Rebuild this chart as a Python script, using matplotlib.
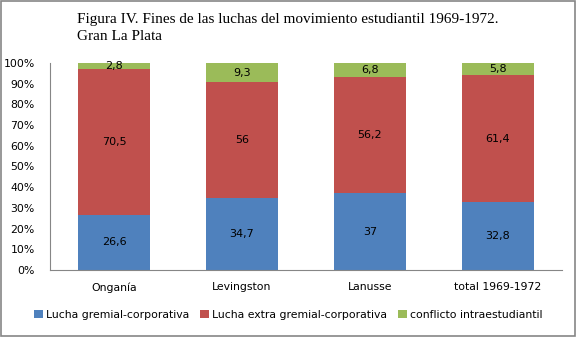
import numpy as np
import matplotlib.pyplot as plt
from matplotlib.patches import Rectangle

categorias = ["Onganía", "Levingston", "Lanusse", "total 1969-1972"]
gremial = [26.6, 34.7, 37, 32.8]
extra = [70.5, 56, 56.2, 61.4]
intra = [2.8, 9.3, 6.8, 5.8]
etiquetas = ["Lucha gremial-corporativa", "Lucha extra gremial-corporativa", "conflicto intraestudiantil"]
colores = ["#4F81BD", "#C0504D", "#9BBB59"]

plt.rcParams['font.family'] = ['DejaVu Sans']

fig = plt.figure(figsize=(5.77, 3.37), dpi=100)
ax = fig.add_axes([50/577, 67/337, 512/577, 207/337])

x = np.arange(len(categorias))
series = [np.array(gremial), np.array(extra), np.array(intra)]
total = series[0] + series[1] + series[2]
base = np.zeros(len(categorias))
for vals, col, lab in zip(series, colores, etiquetas):
    pct = vals / total * 100
    ax.bar(x, pct, bottom=base, width=0.57, color=col, label=lab)
    for xi, b, p, v in zip(x, base, pct, vals):
        txt = ("%g" % v).replace(".", ",")
        ax.text(xi, b + p / 2, txt, ha="center", va="center", fontsize=8, color="black")
    base = base + pct

ax.set_xlim(-0.5, len(categorias) - 0.5)
ax.set_ylim(0, 100)
ax.set_yticks(np.arange(0, 101, 10))
ax.set_yticklabels(["%d%%" % v for v in range(0, 101, 10)], fontsize=7.8)
ax.set_xticks(x)
ax.set_xticklabels(categorias, fontsize=7.8)
ax.tick_params(axis="both", length=0, pad=9)
ax.tick_params(axis="y", pad=11)
for s in ["top", "right"]:
    ax.spines[s].set_visible(False)
for s in ["left", "bottom"]:
    ax.spines[s].set_color("#868686")

fig.text(77/577, 1 - 28/337, "Figura IV. Fines de las luchas del movimiento estudiantil 1969-1972.\nGran La Plata",
         ha="left", va="center", fontsize=11, family="Liberation Serif", linespacing=1.3)

handles, labels = ax.get_legend_handles_labels()
fig.legend(handles, labels, loc="center", bbox_to_anchor=(0.5, 1 - 315/337), ncol=3, frameon=False,
           fontsize=7.8, handlelength=0.8, handleheight=0.8, handletextpad=0.3, columnspacing=1.0)

fig.patches.append(Rectangle((0.002, 0.003), 0.995, 0.994, transform=fig.transFigure, fill=False,
                             edgecolor="#868686", linewidth=1.2))

fig.savefig("out.png", dpi=100)
